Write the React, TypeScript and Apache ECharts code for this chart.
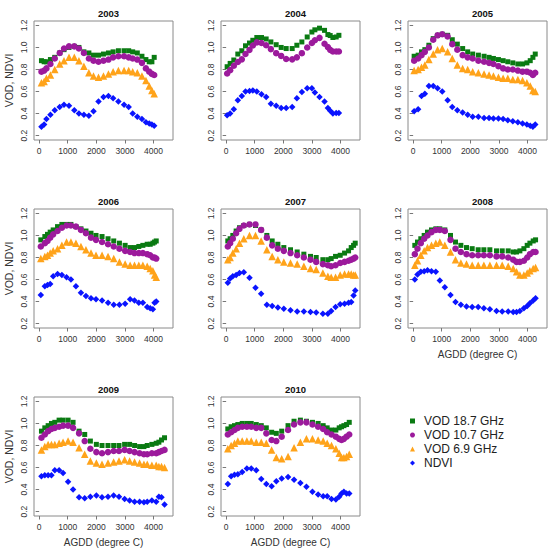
import React, { useEffect, useRef } from "react";
import * as echarts from "echarts";

const years = ["2003", "2004", "2005", "2006", "2007", "2008", "2009", "2010"];
const xTicks = [0, 1000, 2000, 3000, 4000];
const yTicks = [0.2, 0.4, 0.6, 0.8, 1.0, 1.2];
const seriesNames = ["VOD 18.7 GHz", "VOD 10.7 GHz", "VOD 6.9 GHz", "NDVI"];

// 2003
const agdd2003 = [81, 174, 255, 394, 545, 719, 870, 1043, 1229, 1391, 1565, 1739, 1901, 2075, 2249, 2423, 2586, 2771, 2968, 3130, 3270, 3432, 3594, 3733, 3849, 3942, 4023];
const v187_2003 = [0.88, 0.87, 0.87, 0.89, 0.91, 0.95, 0.98, 1.0, 1.01, 1.0, 0.96, 0.95, 0.93, 0.93, 0.94, 0.95, 0.96, 0.97, 0.97, 0.97, 0.96, 0.95, 0.92, 0.89, 0.87, 0.87, 0.91];
const v107_2003 = [0.78, 0.79, 0.81, 0.85, 0.9, 0.95, 0.99, 1.01, 1.01, 0.99, 0.95, 0.9, 0.88, 0.87, 0.88, 0.89, 0.91, 0.92, 0.92, 0.91, 0.9, 0.89, 0.86, 0.81, 0.78, 0.76, 0.75];
const v69_2003 = [0.68, 0.69, 0.72, 0.75, 0.8, 0.85, 0.88, 0.91, 0.91, 0.88, 0.83, 0.77, 0.74, 0.73, 0.74, 0.76, 0.78, 0.79, 0.79, 0.79, 0.78, 0.77, 0.74, 0.7, 0.65, 0.61, 0.58];
const ndvi2003 = [0.28, 0.3, 0.35, 0.39, 0.43, 0.46, 0.48, 0.47, 0.43, 0.4, 0.39, 0.38, 0.42, 0.51, 0.55, 0.56, 0.54, 0.51, 0.48, 0.46, 0.4, 0.37, 0.35, 0.32, 0.31, 0.3, 0.29];

// 2004
const agdd2004 = [35, 140, 268, 408, 548, 676, 816, 933, 1073, 1236, 1399, 1563, 1749, 1924, 2099, 2309, 2472, 2647, 2834, 2997, 3102, 3265, 3440, 3557, 3638, 3732, 3848, 3942];
const v187_2004 = [0.825, 0.855, 0.886, 0.94, 0.97, 1.015, 1.04, 1.065, 1.09, 1.09, 1.077, 1.05, 1.025, 1.0, 0.99, 0.99, 1.02, 1.05, 1.095, 1.14, 1.16, 1.175, 1.155, 1.117, 1.108, 1.09, 1.095, 1.11];
const v107_2004 = [0.763, 0.794, 0.834, 0.868, 0.892, 0.94, 0.978, 1.018, 1.046, 1.04, 1.02, 0.985, 0.948, 0.923, 0.895, 0.892, 0.91, 0.948, 1.0, 1.04, 1.065, 1.087, 1.034, 1.003, 0.978, 0.963, 0.963, 0.963];
const v69_2004: number[] = [];
const ndvi2004 = [0.385, 0.4, 0.44, 0.52, 0.56, 0.6, 0.605, 0.61, 0.6, 0.575, 0.55, 0.49, 0.47, 0.45, 0.45, 0.46, 0.54, 0.595, 0.63, 0.63, 0.59, 0.55, 0.51, 0.45, 0.425, 0.4, 0.405, 0.405];

// 2005
const agdd2005 = [35, 175, 292, 409, 550, 702, 854, 1018, 1205, 1368, 1544, 1731, 1906, 2082, 2281, 2480, 2655, 2807, 2982, 3146, 3310, 3485, 3661, 3825, 3977, 4094, 4187, 4269];
const v187_2005 = [0.92, 0.93, 0.96, 0.98, 1.02, 1.08, 1.11, 1.12, 1.11, 1.07, 1.03, 0.99, 0.96, 0.94, 0.93, 0.92, 0.91, 0.9, 0.89, 0.88, 0.87, 0.86, 0.85, 0.85, 0.86, 0.88, 0.91, 0.94];
const v107_2005 = [0.88, 0.9, 0.93, 0.96, 1.0, 1.07, 1.11, 1.12, 1.1, 1.03, 0.98, 0.93, 0.91, 0.9, 0.88, 0.87, 0.86, 0.85, 0.83, 0.81, 0.8, 0.8, 0.79, 0.78, 0.78, 0.77, 0.75, 0.77];
const v69_2005 = [0.79, 0.8, 0.82, 0.84, 0.89, 0.94, 0.98, 0.99, 0.96, 0.9, 0.84, 0.81, 0.8, 0.78, 0.77, 0.76, 0.75, 0.74, 0.73, 0.72, 0.72, 0.71, 0.71, 0.7, 0.68, 0.65, 0.61, 0.6];
const ndvi2005 = [0.42, 0.44, 0.56, 0.58, 0.65, 0.65, 0.63, 0.6, 0.52, 0.46, 0.43, 0.41, 0.39, 0.37, 0.37, 0.36, 0.36, 0.355, 0.355, 0.35, 0.34, 0.33, 0.32, 0.31, 0.3, 0.29, 0.28, 0.3];

// 2006
const agdd2006 = [58, 199, 292, 386, 491, 643, 795, 959, 1111, 1287, 1462, 1637, 1813, 1988, 2199, 2409, 2608, 2807, 3006, 3181, 3333, 3485, 3626, 3778, 3883, 3977, 4035, 4094];
const v187_2006 = [0.96, 0.99, 1.01, 1.03, 1.05, 1.08, 1.1, 1.1, 1.1, 1.08, 1.06, 1.04, 1.02, 1.0, 0.99, 0.97, 0.95, 0.93, 0.91, 0.89, 0.89, 0.9, 0.91, 0.92, 0.92, 0.93, 0.94, 0.95];
const v107_2006 = [0.9, 0.93, 0.95, 0.98, 1.01, 1.04, 1.07, 1.09, 1.09, 1.08, 1.05, 1.02, 0.98, 0.96, 0.94, 0.92, 0.9, 0.88, 0.86, 0.85, 0.84, 0.84, 0.84, 0.83, 0.82, 0.8, 0.8, 0.79];
const v69_2006 = [0.79, 0.81, 0.82, 0.84, 0.86, 0.88, 0.91, 0.94, 0.94, 0.93, 0.9, 0.87, 0.84, 0.82, 0.82, 0.81, 0.79, 0.76, 0.74, 0.73, 0.73, 0.73, 0.73, 0.72, 0.7, 0.68, 0.64, 0.62];
const ndvi2006 = [0.46, 0.54, 0.55, 0.56, 0.63, 0.65, 0.64, 0.62, 0.6, 0.54, 0.48, 0.45, 0.43, 0.42, 0.41, 0.39, 0.37, 0.37, 0.38, 0.42, 0.41, 0.39, 0.39, 0.35, 0.34, 0.33, 0.39, 0.4];

// 2007
const agdd2007 = [58, 140, 233, 350, 466, 618, 816, 1026, 1224, 1423, 1609, 1808, 2017, 2251, 2484, 2717, 2950, 3149, 3382, 3557, 3673, 3825, 3988, 4140, 4280, 4373, 4455, 4513];
const v187_2007 = [0.95, 0.97, 1.0, 1.04, 1.07, 1.09, 1.1, 1.09, 1.05, 1.0, 0.95, 0.92, 0.89, 0.87, 0.85, 0.83, 0.81, 0.8, 0.78, 0.78, 0.79, 0.81, 0.82, 0.84, 0.86, 0.89, 0.91, 0.93];
const v107_2007 = [0.9, 0.93, 0.97, 1.02, 1.06, 1.09, 1.1, 1.1, 1.05, 0.98, 0.91, 0.88, 0.86, 0.84, 0.82, 0.8, 0.78, 0.76, 0.74, 0.73, 0.72, 0.73, 0.75, 0.76, 0.77, 0.78, 0.79, 0.8];
const v69_2007 = [0.78, 0.8, 0.84, 0.88, 0.93, 0.97, 1.0, 1.0, 0.95, 0.87, 0.81, 0.78, 0.76, 0.75, 0.74, 0.72, 0.7, 0.69, 0.66, 0.63, 0.62, 0.62, 0.64, 0.65, 0.65, 0.65, 0.64, 0.64];
const ndvi2007 = [0.57, 0.61, 0.63, 0.64, 0.66, 0.665, 0.615, 0.525, 0.47, 0.37, 0.36, 0.345, 0.335, 0.32, 0.31, 0.31, 0.305, 0.3, 0.29, 0.29, 0.315, 0.35, 0.375, 0.38, 0.39, 0.395, 0.455, 0.5];

// 2008
const agdd2008 = [58, 152, 268, 385, 501, 641, 793, 933, 1108, 1306, 1481, 1668, 1866, 2064, 2274, 2472, 2682, 2915, 3114, 3324, 3499, 3615, 3732, 3872, 3988, 4082, 4198, 4280];
const v187_2008 = [0.91, 0.94, 0.97, 1.0, 1.03, 1.05, 1.06, 1.06, 1.05, 1.0, 0.94, 0.91, 0.89, 0.88, 0.87, 0.87, 0.87, 0.86, 0.86, 0.86, 0.85, 0.85, 0.86, 0.88, 0.91, 0.93, 0.95, 0.96];
const v107_2008 = [0.83, 0.88, 0.93, 0.97, 1.0, 1.03, 1.05, 1.05, 1.04, 0.96, 0.88, 0.85, 0.83, 0.82, 0.82, 0.82, 0.82, 0.81, 0.81, 0.8, 0.78, 0.76, 0.76, 0.77, 0.8, 0.83, 0.85, 0.85];
const v69_2008 = [0.73, 0.77, 0.82, 0.86, 0.89, 0.91, 0.93, 0.94, 0.91, 0.85, 0.78, 0.75, 0.74, 0.73, 0.73, 0.73, 0.73, 0.73, 0.73, 0.72, 0.7, 0.67, 0.64, 0.64, 0.66, 0.68, 0.7, 0.71];
const ndvi2008 = [0.6, 0.645, 0.67, 0.675, 0.685, 0.675, 0.67, 0.59, 0.53, 0.46, 0.395, 0.37, 0.355, 0.35, 0.35, 0.34, 0.33, 0.315, 0.31, 0.31, 0.305, 0.305, 0.315, 0.34, 0.36, 0.385, 0.41, 0.43];

// 2009
const agdd2009 = [81, 198, 314, 430, 547, 698, 837, 1012, 1186, 1395, 1593, 1791, 2000, 2198, 2407, 2605, 2791, 2988, 3163, 3337, 3512, 3663, 3779, 3942, 4093, 4186, 4279, 4384];
const v187_2009 = [0.93, 0.96, 0.98, 1.0, 1.01, 1.03, 1.03, 1.03, 1.01, 0.93, 0.9, 0.84, 0.81, 0.8, 0.8, 0.8, 0.8, 0.81, 0.81, 0.8, 0.79, 0.79, 0.8, 0.81, 0.82, 0.83, 0.85, 0.87];
const v107_2009 = [0.87, 0.9, 0.93, 0.95, 0.96, 0.97, 0.98, 0.98, 0.96, 0.91, 0.84, 0.77, 0.74, 0.73, 0.74, 0.75, 0.75, 0.76, 0.75, 0.74, 0.73, 0.72, 0.72, 0.73, 0.73, 0.74, 0.75, 0.76];
const v69_2009 = [0.76, 0.79, 0.81, 0.81, 0.81, 0.82, 0.83, 0.84, 0.83, 0.78, 0.72, 0.66, 0.64, 0.63, 0.64, 0.65, 0.66, 0.67, 0.66, 0.65, 0.64, 0.63, 0.63, 0.62, 0.62, 0.61, 0.61, 0.6];
const ndvi2009 = [0.52, 0.53, 0.53, 0.53, 0.575, 0.575, 0.55, 0.47, 0.4, 0.33, 0.32, 0.335, 0.345, 0.33, 0.335, 0.345, 0.335, 0.315, 0.3, 0.29, 0.29, 0.285, 0.29, 0.3, 0.29, 0.335, 0.33, 0.265];

// 2010
const agdd2010 = [58, 175, 292, 409, 561, 725, 877, 1053, 1228, 1404, 1591, 1754, 1942, 2164, 2374, 2596, 2807, 3018, 3216, 3392, 3532, 3684, 3836, 3953, 4035, 4117, 4211, 4304];
const v187_2010 = [0.95, 0.97, 0.98, 0.99, 1.0, 1.0, 1.0, 0.99, 0.98, 0.96, 0.92, 0.91, 0.93, 0.98, 1.02, 1.03, 1.02, 1.01, 1.0, 0.98, 0.96, 0.94, 0.94, 0.96, 0.97, 0.98, 0.99, 1.01];
const v107_2010 = [0.9, 0.92, 0.94, 0.96, 0.97, 0.97, 0.97, 0.96, 0.96, 0.91, 0.85, 0.84, 0.88, 0.94, 0.99, 1.01, 1.01, 0.99, 0.97, 0.95, 0.92, 0.9, 0.88, 0.86, 0.85, 0.86, 0.88, 0.9];
const v69_2010 = [0.77, 0.8, 0.82, 0.84, 0.84, 0.84, 0.84, 0.83, 0.83, 0.82, 0.76, 0.69, 0.68, 0.7, 0.78, 0.83, 0.86, 0.86, 0.85, 0.84, 0.82, 0.8, 0.77, 0.73, 0.69, 0.69, 0.7, 0.72];
const ndvi2010 = [0.45, 0.52, 0.535, 0.54, 0.56, 0.59, 0.59, 0.575, 0.495, 0.45, 0.43, 0.475, 0.5, 0.515, 0.49, 0.46, 0.425, 0.38, 0.355, 0.34, 0.34, 0.315, 0.31, 0.335, 0.365, 0.38, 0.365, 0.365];

const panelData = [
  [agdd2003, v187_2003, v107_2003, v69_2003, ndvi2003],
  [agdd2004, v187_2004, v107_2004, v69_2004, ndvi2004],
  [agdd2005, v187_2005, v107_2005, v69_2005, ndvi2005],
  [agdd2006, v187_2006, v107_2006, v69_2006, ndvi2006],
  [agdd2007, v187_2007, v107_2007, v69_2007, ndvi2007],
  [agdd2008, v187_2008, v107_2008, v69_2008, ndvi2008],
  [agdd2009, v187_2009, v107_2009, v69_2009, ndvi2009],
  [agdd2010, v187_2010, v107_2010, v69_2010, ndvi2010],
];

const COLORS = ["#0a7a12", "#9c1a9c", "#ffa31a", "#0a14ff"];
const SYMBOLS = ["rect", "circle", "triangle", "diamond"];
const SIZES = [5, 6.5, 7.5, 6.5];
const FONT = "Liberation Sans, Arial, sans-serif";

const colLeft = [34, 221, 408];
const rowTop = [21, 209, 397];
const PW = 139;
const PH = 119;

export default function App() {
  const ref = useRef<HTMLDivElement>(null);
  useEffect(() => {
    if (!ref.current) return;
    const chart = echarts.init(ref.current, undefined, { renderer: "svg" });
    const grids: any[] = [];
    const xAxes: any[] = [];
    const yAxes: any[] = [];
    const titles: any[] = [];
    const series: any[] = [];
    years.forEach((yr, i) => {
      const r = Math.floor(i / 3);
      const c = i % 3;
      grids.push({
        left: colLeft[c],
        top: rowTop[r],
        width: PW,
        height: PH,
        show: true,
        borderColor: "#8a8a8a",
        borderWidth: 1,
        backgroundColor: "transparent",
      });
      titles.push({
        text: yr,
        left: colLeft[c] + PW / 2,
        top: rowTop[r] - 18,
        textAlign: "center",
        textStyle: { fontSize: 9.5, fontWeight: "bold", color: "#111", fontFamily: FONT },
      });
      const showXName = i >= 5;
      xAxes.push({
        type: "value",
        gridIndex: i,
        min: -180,
        max: 4680,
        splitLine: { show: false },
        axisLine: { show: false },
        axisTick: { show: true, customValues: xTicks, length: 3.5, lineStyle: { color: "#777" } },
        axisLabel: {
          customValues: xTicks,
          fontSize: 8.5,
          margin: 6,
          color: "#333",
          fontFamily: FONT,
          formatter: (v: number) => String(v),
        },
        name: showXName ? "AGDD (degree C)" : "",
        nameLocation: "middle",
        nameGap: 21,
        nameTextStyle: { fontSize: 10, color: "#333", fontFamily: FONT },
      });
      yAxes.push({
        type: "value",
        gridIndex: i,
        min: 0.16,
        max: 1.24,
        splitLine: { show: false },
        axisLine: { show: false },
        axisTick: { show: true, customValues: yTicks, length: 3.5, lineStyle: { color: "#777" } },
        axisLabel: {
          customValues: yTicks,
          rotate: 90,
          fontSize: 8.5,
          margin: 6,
          color: "#333",
          fontFamily: FONT,
          formatter: (v: number) => v.toFixed(1),
        },
        name: c === 0 ? "VOD, NDVI" : "",
        nameLocation: "middle",
        nameRotate: 90,
        nameGap: 20,
        nameTextStyle: { fontSize: 10.5, color: "#333", fontFamily: FONT },
      });
      const d = panelData[i];
      const xs = d[0];
      for (let s = 0; s < 4; s++) {
        const vals = d[s + 1];
        series.push({
          type: "scatter",
          name: seriesNames[s],
          xAxisIndex: i,
          yAxisIndex: i,
          symbol: SYMBOLS[s],
          symbolSize: SIZES[s],
          itemStyle: { color: COLORS[s], opacity: 1 },
          data: vals.map((v, j) => [xs[j], v]),
        });
      }
    });
    chart.setOption({
      animation: false,
      backgroundColor: "#ffffff",
      textStyle: { fontFamily: FONT },
      title: titles,
      grid: grids,
      xAxis: xAxes,
      yAxis: yAxes,
      legend: {
        orient: "vertical",
        left: 405,
        top: 409,
        itemWidth: 5,
        itemHeight: 5,
        itemGap: 0,
        selectedMode: false,
        itemStyle: { borderWidth: 0 },
        textStyle: { fontSize: 12, color: "#222", fontFamily: FONT, lineHeight: 14, padding: [0, 0, 0, 4] },
        data: seriesNames.map((n, k) => ({
          name: n,
          icon: SYMBOLS[k],
          itemStyle: { color: COLORS[k], borderWidth: 0 },
        })),
      },
      series,
    });
    return () => chart.dispose();
  }, []);
  return (
    <div
      ref={ref}
      style={{ position: "absolute", left: 0, top: 0, width: 550, height: 550, background: "#fff" }}
    />
  );
}
